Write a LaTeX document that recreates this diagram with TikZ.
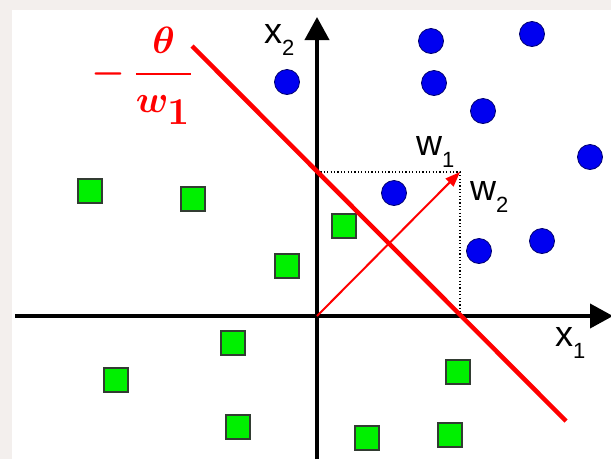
\documentclass[tikz,border=0pt]{standalone}
\usepackage{fontspec}
\usepackage{amsmath}
\usepackage{bm}
\usepackage{graphicx}
\usetikzlibrary{arrows.meta}
\newfontfamily\axisfont{Liberation Sans}

\definecolor{paper}{RGB}{243,239,237}
\definecolor{dotblue}{RGB}{0,0,240}
\definecolor{dotedge}{RGB}{0,0,110}
\definecolor{boxgreen}{RGB}{0,240,0}
\definecolor{boxedge}{RGB}{50,60,50}
\definecolor{linered}{RGB}{255,0,0}

% letter with a lowered index, e.g. x_1
\newcommand{\sublabel}[2]{{\axisfont\fontsize{36}{36}\selectfont #1\raisebox{-12pt}{\fontsize{22}{22}\selectfont #2}}}

\tikzset{
  posclass/.style={circle, fill=dotblue, draw=dotedge, line width=0.8pt, minimum size=25pt, inner sep=0pt},
  negclass/.style={rectangle, fill=boxgreen, draw=boxedge, line width=1.2pt, minimum size=24pt, inner sep=0pt},
  axisline/.style={line width=4pt, -{Triangle[length=23pt,width=24pt]}},
  boundary/.style={linered, line width=4.5pt},
  weightvec/.style={linered, line width=2pt, -{Triangle[length=15pt,width=11pt]}},
  proj/.style={line width=1.2pt, dash pattern=on 1.2pt off 2.2pt},
  lab/.style={anchor=base west, inner sep=0pt, outer sep=0pt},
}

\begin{document}
\begin{tikzpicture}[x=1pt,y=-1pt]
\useasboundingbox (0,0) rectangle (611,459);
\clip (0,0) rectangle (611,459);
\fill[paper] (0,0) rectangle (611,459);
\fill[white] (12,10) rectangle (611,459);

% key points
\coordinate (O) at (317,316);
\coordinate (W) at (460,172);
\coordinate (Q) at (317,172);
\coordinate (P) at (460,316);
\coordinate (xl) at (15,316);
\coordinate (xr) at (613,316);
\coordinate (yb) at (317,459);
\coordinate (yt) at (317,17);
\coordinate (bA) at (192,46);
\coordinate (bB) at (566,421);

% class +1
\node[posclass] (b1) at (287,82) {};
\node[posclass] (b2) at (431,41) {};
\node[posclass] (b3) at (532,34) {};
\node[posclass] (b4) at (434,83) {};
\node[posclass] (b5) at (483,111) {};
\node[posclass] (b6) at (590,157) {};
\node[posclass] (b7) at (394,193) {};
\node[posclass] (b8) at (479,251) {};
\node[posclass] (b9) at (542,241) {};

% class -1
\node[negclass] (g1) at (90,191) {};
\node[negclass] (g2) at (193,199) {};
\node[negclass] (g3) at (344,226) {};
\node[negclass] (g4) at (287,266) {};
\node[negclass] (g5) at (233,343) {};
\node[negclass] (g6) at (116,380) {};
\node[negclass] (g7) at (458,372) {};
\node[negclass] (g8) at (238,427) {};
\node[negclass] (g9) at (367,438) {};
\node[negclass] (g10) at (450,435) {};

% axes
\draw[axisline] (xl) -- (xr);
\draw[axisline] (yb) -- (yt);

% projections of w
\draw[proj] (Q) -- (W) -- (P);

% separating line and weight vector
\draw[boundary] (bA) -- (bB);
\draw[weightvec] (O) -- (W);

% labels
\node[lab] (lx2) at (264,43) {\sublabel{x}{2}};
\node[lab] (lx1) at (555,346) {\sublabel{x}{1}};
\node[lab] (lw1) at (416,155) {\sublabel{w}{1}};
\node[lab] (lw2) at (470,200) {\sublabel{w}{2}};

\node[lab, text=linered] (frac) at (91,83.5)
  {\scalebox{3.8}{$\bm{-}\mkern3mu\genfrac{}{}{0.75pt}{0}{\raisebox{1pt}{$\bm{\theta}$}}{\raisebox{-0.8pt}{$\bm{w}_{\textstyle\bm{1}}$}}$}};
\end{tikzpicture}
\end{document}
